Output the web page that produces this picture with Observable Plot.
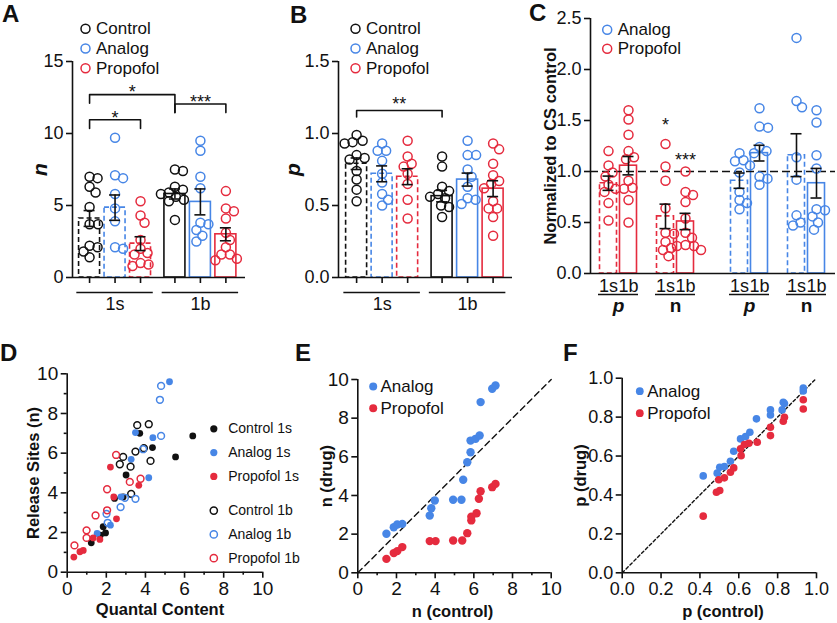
<!DOCTYPE html>
<html>
<head>
<meta charset="utf-8">
<script src="https://cdn.jsdelivr.net/npm/d3@7"></script>
<script src="https://cdn.jsdelivr.net/npm/@observablehq/plot@0.6"></script>
<style>
  html, body { margin: 0; padding: 0; background: #fff; }
  #fig { position: relative; width: 837px; height: 623px; overflow: hidden; background: #fff;
         font-family: "Liberation Sans", Arial, Helvetica, sans-serif; color: #111; }
  .panel { position: absolute; }
  .panel svg { display: block; }
  .letter { position: absolute; font-size: 24px; font-weight: bold; line-height: 1; color: #111; }
</style>
</head>
<body>
<div id="fig"></div>
<script>
// ---------------- DATA ----------------
const conditions = ["Control", "Analog", "Propofol"];
const synapses = ["1s", "1b"];

// Panel A: n (release sites) per NMJ
const nControl1s  = [7.0, 6.9, 6.3, 5.9, 4.9, 3.7, 3.7, 2.2, 2.1, 1.8, 1.4];
const nAnalog1s   = [9.7, 7.1, 6.9, 5.8, 4.8, 3.9, 2.1, 2.0];
const nPropofol1s = [5.3, 4.3, 3.8, 2.6, 2.0, 1.7, 1.6, 1.0, 0.9, 0.8];
const nControl1b  = [7.5, 7.4, 6.3, 6.1, 5.9, 5.8, 5.6, 5.4, 5.3, 4.0];
const nAnalog1b   = [9.5, 8.8, 7.0, 6.2, 3.8, 3.7, 3.3, 2.9, 2.5];
const nPropofol1b = [6.0, 4.8, 4.6, 4.1, 3.1, 2.6, 2.1, 1.6, 1.6, 1.3, 1.2];
const nMean = [4.1, 4.85, 2.35, 5.8, 5.25, 3.0];
const nSem  = [0.55, 0.88, 0.48, 0.35, 0.9, 0.45];
const nTicks = [0, 5, 10, 15];
const nBracketFrom = [0, 3, 0], nBracketTo = [3, 5, 2];
const nBracketTop = [12.7, 12.05, 10.95];
const nBracketEndFrom = [12.1, 11.45, 10.35], nBracketEndTo = [11.45, 11.45, 10.35];
const nBracketLabel = ["*", "***", "*"];

// Panel B: p (release probability)
const pControl1s  = [0.99, 0.95, 0.94, 0.93, 0.85, 0.83, 0.82, 0.74, 0.68, 0.61, 0.53];
const pAnalog1s   = [0.93, 0.88, 0.88, 0.81, 0.72, 0.66, 0.58, 0.54, 0.50];
const pPropofol1s = [0.95, 0.84, 0.79, 0.77, 0.72, 0.65, 0.54, 0.41];
const pControl1b  = [0.84, 0.77, 0.63, 0.60, 0.58, 0.56, 0.55, 0.50, 0.49, 0.42];
const pAnalog1b   = [0.95, 0.85, 0.85, 0.75, 0.70, 0.63, 0.55, 0.54, 0.51];
const pPropofol1b = [0.93, 0.89, 0.79, 0.71, 0.67, 0.65, 0.62, 0.53, 0.48, 0.48, 0.42, 0.29];
const pMean = [0.79, 0.72, 0.70, 0.565, 0.68, 0.617];
const pSem  = [0.04, 0.055, 0.055, 0.04, 0.045, 0.055];
const pTicks = [0, 0.5, 1.0, 1.5];
const pBracketFrom = [0], pBracketTo = [3];
const pBracketTop = [1.16], pBracketEndFrom = [1.115], pBracketEndTo = [1.115];
const pBracketLabel = ["**"];

// Panel C: normalized to CS control
const cDrugs = ["Propofol", "Analog"];
const cParams = ["p", "n"];
const cPropofolP1s = [1.20, 1.06, 0.99, 0.95, 0.87, 0.83, 0.80, 0.69, 0.52];
const cPropofolP1b = [1.60, 1.51, 1.36, 1.20, 1.14, 1.12, 0.91, 0.84, 0.83, 0.72, 0.50];
const cPropofolN1s = [1.27, 1.05, 0.91, 0.64, 0.40, 0.39, 0.31, 0.25, 0.23, 0.17];
const cPropofolN1b = [1.00, 0.80, 0.77, 0.70, 0.54, 0.40, 0.35, 0.28, 0.27, 0.27, 0.23];
const cAnalogP1s   = [1.18, 1.11, 1.10, 1.06, 0.99, 0.80, 0.72, 0.69, 0.63];
const cAnalogP1b   = [1.62, 1.44, 1.43, 1.24, 1.20, 1.18, 0.95, 0.93, 0.87];
const cAnalogN1s   = [2.31, 1.69, 1.63, 1.14, 0.92, 0.57, 0.50, 0.47];
const cAnalogN1b   = [1.60, 1.48, 1.16, 1.03, 0.63, 0.62, 0.56, 0.50, 0.43];
const cMean = [0.885, 1.057, 0.56, 0.51, 0.91, 1.18, 1.16, 0.885];
const cSem  = [0.07, 0.09, 0.12, 0.08, 0.075, 0.077, 0.21, 0.145];
const cTicks = [0, 0.5, 1.0, 1.5, 2.0, 2.5];
const cReference = 1.0;
const cStarBar = [2, 3], cStarY = [1.458, 1.115], cStarLabel = ["*", "***"];

// Panel D: release sites vs quantal content
const dTicks = [0, 2, 4, 6, 8, 10], dMinor = [1, 3, 5, 7, 9];
const dControl1sX  = [1.23, 1.70, 1.84, 1.96, 2.42, 2.86, 3.01, 3.71, 4.36, 5.54, 6.42];
const dControl1sY  = [1.48, 1.87, 2.29, 1.98, 3.72, 3.79, 4.90, 7.00, 6.28, 5.81, 6.87];
const dAnalog1sX   = [5.23, 3.49, 4.38, 3.27, 4.17, 2.75, 2.21, 1.53];
const dAnalog1sY   = [9.60, 7.04, 6.78, 5.69, 4.76, 3.80, 2.37, 1.95];
const dPropofol1sX = [2.21, 3.66, 2.38, 2.52, 1.33, 1.67, 0.82, 0.65, 0.34];
const dPropofol1sY = [5.30, 4.38, 3.79, 2.69, 1.73, 1.65, 1.10, 1.03, 0.76];
const dControl1bX  = [3.58, 4.17, 3.49, 3.92, 2.86, 2.69, 3.24, 4.26, 3.27];
const dControl1bY  = [7.41, 7.46, 6.08, 6.25, 5.81, 5.44, 5.32, 5.61, 3.95];
const dAnalog1bX   = [4.80, 4.74, 4.80, 3.88, 2.73, 3.49, 2.95, 2.01, 2.07];
const dAnalog1bY   = [9.39, 8.69, 6.87, 6.20, 3.28, 3.70, 3.75, 2.94, 2.49];
const dPropofol1bX = [2.50, 3.75, 3.20, 2.04, 2.04, 1.45, 0.99, 0.99, 0.37];
const dPropofol1bY = [5.91, 4.71, 4.55, 4.18, 3.12, 2.86, 2.11, 1.73, 1.35];
const dLegend = ["Control 1s", "Analog 1s", "Propofol 1s", "Control 1b", "Analog 1b", "Propofol 1b"];

// Panel E: n drug vs n control
const eAnalogX   = [1.48, 1.86, 2.04, 2.30, 3.72, 3.80, 3.98, 4.93, 5.36, 5.45, 5.66, 5.83, 5.83, 6.09, 6.30, 6.35, 6.95, 7.12];
const eAnalogY   = [2.02, 2.36, 2.50, 2.53, 2.96, 3.34, 3.74, 3.78, 3.78, 4.81, 5.72, 6.24, 6.84, 6.93, 7.10, 8.83, 9.52, 9.69];
const ePropofolX = [1.48, 1.86, 2.04, 2.30, 3.72, 4.02, 4.93, 5.40, 5.66, 5.87, 5.87, 6.14, 6.26, 6.35, 6.95, 7.12];
const ePropofolY = [0.72, 1.02, 1.12, 1.33, 1.64, 1.64, 1.67, 1.67, 2.05, 2.71, 2.90, 3.08, 3.83, 4.22, 4.43, 4.60];

// Panel F: p drug vs p control
const fTicks = [0, 0.2, 0.4, 0.6, 0.8, 1.0];
const fAnalogX   = [0.417, 0.489, 0.502, 0.526, 0.557, 0.574, 0.609, 0.635, 0.657, 0.691, 0.763, 0.763, 0.829, 0.835, 0.823, 0.932, 0.932];
const fAnalogY   = [0.498, 0.512, 0.542, 0.546, 0.573, 0.625, 0.688, 0.700, 0.722, 0.791, 0.837, 0.811, 0.876, 0.870, 0.837, 0.950, 0.934];
const fPropofolX = [0.417, 0.485, 0.502, 0.497, 0.526, 0.557, 0.574, 0.612, 0.609, 0.629, 0.652, 0.695, 0.763, 0.763, 0.829, 0.835, 0.932, 0.932];
const fPropofolY = [0.291, 0.414, 0.423, 0.478, 0.488, 0.517, 0.539, 0.602, 0.637, 0.659, 0.666, 0.671, 0.748, 0.705, 0.779, 0.799, 0.889, 0.842];
const drugLegend = ["Analog", "Propofol"];

// ---------------- STYLE ----------------
const FONT = '"Liberation Sans", Arial, Helvetica, sans-serif';
const INK = "#111111", BLUE = "#4786e6", RED = "#e52b3e";
const SW = 1.6;
const condColor = {Control: INK, Analog: BLUE, Propofol: RED};

// ---------------- HELPERS ----------------
function swarm(vals, kx, ky, r) {
  const order = d3.range(vals.length).sort((a, b) => vals[b] - vals[a]);
  const placed = [], out = new Array(vals.length).fill(0);
  const minD = 2 * r * 0.9;
  for (const i of order) {
    const y = vals[i] * ky;
    for (let k = 0; k < 400; k++) {
      const c = (k % 2 ? 1 : -1) * Math.ceil(k / 2) * 0.5;
      if (placed.every(p => (p.x - c) ** 2 + (p.y - y) ** 2 >= minD * minD)) {
        placed.push({x: c, y}); out[i] = c / kx; break;
      }
    }
  }
  return out;
}

function legendMarks(items, o) {
  return items.flatMap((it, i) => {
    const dy = o.y - o.mt + i * o.step + (o.gapAfter != null && i >= o.gapAfter ? o.gap : 0);
    return [
      Plot.dot([it], {frameAnchor: "top-left", dx: o.x - o.ml, dy, r: o.r,
        stroke: it.filled ? "none" : it.col, fill: it.filled ? it.col : "none", strokeWidth: 1.5}),
      Plot.text([it], {frameAnchor: "top-left", dx: o.x - o.ml + o.textDx, dy, text: d => d.label,
        textAnchor: "start", lineAnchor: "middle", fontSize: o.fontSize, fill: INK})
    ];
  });
}

function place(node, left, top) {
  const d = document.createElement("div");
  d.className = "panel"; d.style.left = left + "px"; d.style.top = top + "px";
  d.appendChild(node); document.getElementById("fig").appendChild(d);
}
function letter(t, left, top) {
  const d = document.createElement("div");
  d.className = "letter"; d.textContent = t; d.style.left = left + "px"; d.style.top = top + "px";
  document.getElementById("fig").appendChild(d);
}

function yTitleMark(text, dx, size, italic) {
  return Plot.text([text], {frameAnchor: "left", dx, rotate: -90, text: d => d, textAnchor: "middle", lineAnchor: "middle",
    fontSize: size, fontWeight: "bold", fontStyle: italic ? "italic" : "normal", fill: INK});
}

function barPanel(o) {
  const iw = o.W - o.ml - o.mr, ih = o.H - o.mt - o.mb;
  const kx = iw / (o.xd[1] - o.xd[0]), ky = ih / (o.yd[1] - o.yd[0]);
  const hw = o.barW / 2 / kx, cap = o.capW / 2 / kx;
  const pts = o.bars.flatMap(b => {
    const off = swarm(b.values, kx, ky, o.r);
    return b.values.map((v, i) => ({x: b.pos + off[i], v, col: b.col}));
  });
  const marks = [
    Plot.rect(o.bars.filter(b => b.dashed), {x1: b => b.pos - hw, x2: b => b.pos + hw, y1: 0, y2: b => b.mean,
      stroke: b => b.col, fill: "none", strokeWidth: SW, strokeDasharray: "5,3"}),
    Plot.rect(o.bars.filter(b => !b.dashed), {x1: b => b.pos - hw, x2: b => b.pos + hw, y1: 0, y2: b => b.mean,
      stroke: b => b.col, fill: "none", strokeWidth: SW}),
    ...(o.refLine != null ? [Plot.ruleY([o.refLine], {stroke: INK, strokeWidth: 1.5, strokeDasharray: "8,4"})] : []),
    Plot.dot(pts, {x: "x", y: "v", r: o.r, stroke: d => d.col, fill: "none", strokeWidth: 1.5}),
    Plot.ruleX(o.bars, {x: "pos", y1: b => b.mean - b.sem, y2: b => b.mean + b.sem, stroke: INK, strokeWidth: SW}),
    Plot.ruleY(o.bars, {y: b => b.mean + b.sem, x1: b => b.pos - cap, x2: b => b.pos + cap, stroke: INK, strokeWidth: SW}),
    Plot.ruleY(o.bars, {y: b => b.mean - b.sem, x1: b => b.pos - cap, x2: b => b.pos + cap, stroke: INK, strokeWidth: SW}),
    Plot.axisY({ticks: o.yTicks, tickFormat: o.yFmt, tickSize: 6, tickPadding: 3, fontSize: 18, strokeWidth: SW, label: null}),
    Plot.ruleX([o.xd[0]], {stroke: INK, strokeWidth: SW}),
    Plot.ruleY([0], {stroke: INK, strokeWidth: SW}),
    yTitleMark(o.yTitle, o.yTitleDx, o.yTitleSize, o.yTitleItalic),
    ...o.extra
  ];
  return Plot.plot({
    width: o.W, height: o.H, marginLeft: o.ml, marginRight: o.mr, marginTop: o.mt, marginBottom: o.mb,
    x: {domain: o.xd, ...(o.noXAxis ? {axis: null} : {})}, y: {domain: o.yd}, color: {type: "identity"},
    style: {fontFamily: FONT, background: "transparent", overflow: "visible", color: INK},
    marks
  });
}

function bracketMarks(bars, from, to, top, ef, et, labels, starDy) {
  const brk = from.map((a, i) => ({a: bars[a].pos, b: bars[to[i]].pos, top: top[i], ea: ef[i], eb: et[i], label: labels[i]}));
  const pts = brk.flatMap((d, k) => [{x: d.a, y: d.ea, k}, {x: d.a, y: d.top, k}, {x: d.b, y: d.top, k}, {x: d.b, y: d.eb, k}]);
  return [
    Plot.line(pts, {x: "x", y: "y", z: "k", stroke: INK, strokeWidth: SW}),
    Plot.text(brk, {x: d => (d.a + d.b) / 2, y: "top", dy: starDy, text: "label", fontSize: 18, fill: INK})
  ];
}

function groupedBars(lists, means, sems) {
  return lists.map((values, i) => {
    const syn = synapses[Math.floor(i / 3)], cond = conditions[i % 3];
    return {values, mean: means[i], sem: sems[i], pos: Math.floor(i / 3) * 3.35 + (i % 3),
            col: condColor[cond], dashed: syn === "1s", syn, cond};
  });
}

function groupAxisMarks(bars) {
  const spans = synapses.map(s => {
    const bs = bars.filter(b => b.syn === s);
    return {label: s, x1: d3.min(bs, b => b.pos) - 0.5, x2: d3.max(bs, b => b.pos) + 0.5};
  });
  return [
    Plot.axisX({ticks: bars.map(b => b.pos), tickSize: 6, tickFormat: () => "", strokeWidth: SW, label: null}),
    Plot.ruleY(spans, {y: 0, x1: "x1", x2: "x2", dy: 15, stroke: INK, strokeWidth: SW}),
    Plot.text(spans, {x: d => (d.x1 + d.x2) / 2, y: 0, dy: 27, text: "label", fontSize: 18, fill: INK})
  ];
}

const condLegend = conditions.map(c => ({label: c, col: condColor[c], filled: false}));

// ---------------- PANEL A ----------------
const barsA = groupedBars([nControl1s, nAnalog1s, nPropofol1s, nControl1b, nAnalog1b, nPropofol1b], nMean, nSem);
const A = {W: 268, H: 318, ml: 72, mr: 23, mt: 61, mb: 41};
place(barPanel({
  ...A, xd: [-0.67, 6.12], yd: [0, 15], bars: barsA, r: 4.5, barW: 21, capW: 11,
  yTicks: nTicks, yFmt: d3.format("d"), yTitle: "n", yTitleDx: -32, yTitleSize: 21, yTitleItalic: true,
  extra: [
    ...groupAxisMarks(barsA),
    ...bracketMarks(barsA, nBracketFrom, nBracketTo, nBracketTop, nBracketEndFrom, nBracketEndTo, nBracketLabel, -2),
    ...legendMarks(condLegend, {x: 85, y: 28.3, step: 19.7, r: 4.5, textDx: 10.5, fontSize: 17, ml: A.ml, mt: A.mt})
  ]
}), 0, 0);

// ---------------- PANEL B ----------------
const barsB = groupedBars([pControl1s, pAnalog1s, pPropofol1s, pControl1b, pAnalog1b, pPropofol1b], pMean, pSem);
const B = {W: 268, H: 318, ml: 72, mr: 22, mt: 61, mb: 41};
place(barPanel({
  ...B, xd: [-0.71, 6.11], yd: [0, 1.5], bars: barsB, r: 4.5, barW: 21, capW: 11,
  yTicks: pTicks, yFmt: d3.format(".1f"), yTitle: "p", yTitleDx: -45, yTitleSize: 21, yTitleItalic: true,
  extra: [
    ...groupAxisMarks(barsB),
    ...bracketMarks(barsB, pBracketFrom, pBracketTo, pBracketTop, pBracketEndFrom, pBracketEndTo, pBracketLabel, -6.5),
    ...legendMarks(condLegend, {x: 89, y: 28.3, step: 19.7, r: 4.5, textDx: 10.5, fontSize: 17, ml: B.ml, mt: B.mt})
  ]
}), 266, 0);

// ---------------- PANEL C ----------------
const cLists = [cPropofolP1s, cPropofolP1b, cPropofolN1s, cPropofolN1b, cAnalogP1s, cAnalogP1b, cAnalogN1s, cAnalogN1b];
const barsC = cLists.map((values, i) => {
  const drug = cDrugs[Math.floor(i / 4)], param = cParams[Math.floor(i / 2) % 2], syn = synapses[i % 2];
  return {values, mean: cMean[i], sem: cSem[i], drug, param, syn, dashed: syn === "1s", col: condColor[drug],
          pos: Math.floor(i / 4) * 6.55 + (Math.floor(i / 2) % 2) * 2.85 + (i % 2)};
});
const pairsC = d3.range(0, barsC.length, 2).map(i => ({label: barsC[i].param, x1: barsC[i].pos - 0.5, x2: barsC[i + 1].pos + 0.5}));
const starsC = cStarBar.map((b, i) => ({x: barsC[b].pos, y: cStarY[i], label: cStarLabel[i]}));
const C = {W: 307, H: 318, ml: 60, mr: 2, mt: 18, mb: 45};
place(barPanel({
  ...C, xd: [-0.9, 11.35], yd: [0, 2.5], bars: barsC, r: 4.5, barW: 17, capW: 11, noXAxis: true, refLine: cReference,
  yTicks: cTicks, yFmt: d3.format(".1f"), yTitle: "Normalized to CS control", yTitleDx: -40, yTitleSize: 16.5, yTitleItalic: false,
  extra: [
    Plot.text(barsC, {x: "pos", y: 0, dy: 12.6, text: "syn", fontSize: 18, fill: INK}),
    Plot.ruleY(pairsC, {y: 0, x1: "x1", x2: "x2", dy: 21, stroke: INK, strokeWidth: SW}),
    Plot.text(pairsC.filter(d => d.label === "p"), {x: d => (d.x1 + d.x2) / 2, y: 0, dy: 32.4, text: "label", fontSize: 19, fontWeight: "bold", fontStyle: "italic", fill: INK}),
    Plot.text(pairsC.filter(d => d.label === "n"), {x: d => (d.x1 + d.x2) / 2, y: 0, dy: 32.4, text: "label", fontSize: 19, fontWeight: "bold", fill: INK}),
    Plot.text(starsC, {x: "x", y: "y", text: "label", fontSize: 18, fill: INK}),
    ...legendMarks(cDrugs.slice().reverse().map(d => ({label: d, col: condColor[d], filled: false})),
      {x: 76.7, y: 29.3, step: 19, r: 4.5, textDx: 10.5, fontSize: 17, ml: C.ml, mt: C.mt})
  ]
}), 530, 0);

// ---------------- SCATTER PANELS ----------------
function zipPts(xs, ys) { return xs.map((x, i) => ({x, y: ys[i]})); }

function scatterPanel(o) {
  const marks = [];
  if (o.diag) marks.push(Plot.line(o.xd.map(v => ({v})), {x: "v", y: "v", stroke: INK, strokeWidth: 1.4, strokeDasharray: o.diag}));
  for (const s of o.series) {
    marks.push(Plot.dot(s.pts, {x: "x", y: "y", r: o.r, fill: s.filled ? s.col : "none", stroke: s.filled ? "none" : s.col, strokeWidth: 1.5}));
  }
  marks.push(
    Plot.axisX({ticks: o.xTicks, tickFormat: o.fmt, tickSize: 6, tickPadding: 3, fontSize: o.tickFont, strokeWidth: SW, label: null}),
    Plot.axisY({ticks: o.yTicks, tickFormat: o.fmt, tickSize: 6, tickPadding: 3, fontSize: o.tickFont, strokeWidth: SW, label: null}),
    Plot.ruleX([o.xd[0]], {stroke: INK, strokeWidth: SW}),
    Plot.ruleY([o.yd[0]], {stroke: INK, strokeWidth: SW}),
    Plot.text([o.xTitle], {frameAnchor: "bottom", dx: o.xTitleDx, dy: o.xTitleDy, text: d => d, textAnchor: "middle", lineAnchor: "middle",
      fontSize: 16.5, fontWeight: "bold", fill: INK}),
    yTitleMark(o.yTitle, o.yTitleDx, 16.5, false),
    ...(o.xMinor ? [Plot.axisX({ticks: o.xMinor, tickFormat: () => "", tickSize: 3, strokeWidth: SW, label: null})] : []),
    ...(o.yMinor ? [Plot.axisY({ticks: o.yMinor, tickFormat: () => "", tickSize: 3, strokeWidth: SW, label: null})] : []),
    ...o.legend
  );
  return Plot.plot({
    width: o.W, height: o.H, marginLeft: o.ml, marginRight: o.mr, marginTop: o.mt, marginBottom: o.mb,
    x: {domain: o.xd}, y: {domain: o.yd}, color: {type: "identity"},
    style: {fontFamily: FONT, background: "transparent", overflow: "visible", color: INK},
    marks
  });
}

// Panel D
const D = {W: 300, H: 305, ml: 66.7, mr: 37.7, mt: 55.3, mb: 51.3};
const dSeries = [
  {pts: zipPts(dControl1sX, dControl1sY), col: INK, filled: true},
  {pts: zipPts(dAnalog1sX, dAnalog1sY), col: BLUE, filled: true},
  {pts: zipPts(dPropofol1sX, dPropofol1sY), col: RED, filled: true},
  {pts: zipPts(dControl1bX, dControl1bY), col: INK, filled: false},
  {pts: zipPts(dAnalog1bX, dAnalog1bY), col: BLUE, filled: false},
  {pts: zipPts(dPropofol1bX, dPropofol1bY), col: RED, filled: false}
];
place(scatterPanel({
  ...D, xd: [0, 10], yd: [0, 10], r: 3.4, series: dSeries, xTicks: dTicks, yTicks: dTicks, xMinor: dMinor, yMinor: dMinor,
  fmt: d3.format("d"), tickFont: 19, xTitle: "Quantal Content", xTitleDx: -5, xTitleDy: 38,
  yTitle: "Release Sites (n)", yTitleDx: -33,
  legend: legendMarks(dLegend.map((l, i) => ({label: l, col: dSeries[i].col, filled: dSeries[i].filled})),
    {x: 213.3, y: 110.3, step: 23.8, gapAfter: 3, gap: 10.4, r: 3.6, textDx: 14.4, fontSize: 14, ml: D.ml, mt: D.mt})
}), 0, 318);

// Panel E
const E = {W: 300, H: 305, ml: 87.3, mr: 19.3, mt: 61, mb: 50.7};
place(scatterPanel({
  ...E, xd: [0, 10], yd: [0, 10], r: 4.2, diag: "6,4",
  series: [{pts: zipPts(eAnalogX, eAnalogY), col: BLUE, filled: true}, {pts: zipPts(ePropofolX, ePropofolY), col: RED, filled: true}],
  xTicks: dTicks, yTicks: dTicks, xMinor: dMinor, fmt: d3.format("d"), tickFont: 19,
  xTitle: "n (control)", xTitleDx: -2, xTitleDy: 39.4, yTitle: "n (drug)", yTitleDx: -31,
  legend: legendMarks(drugLegend.map(l => ({label: l, col: condColor[l], filled: true})),
    {x: 102.7, y: 68, step: 21.7, r: 4, textDx: 7.3, fontSize: 17, ml: E.ml, mt: E.mt})
}), 270, 318);

// Panel F
const F = {W: 287, H: 305, ml: 71.7, mr: 21, mt: 59.7, mb: 50.7};
place(scatterPanel({
  ...F, xd: [0, 1], yd: [0, 1], r: 3.8, diag: "3,2.5",
  series: [{pts: zipPts(fAnalogX, fAnalogY), col: BLUE, filled: true}, {pts: zipPts(fPropofolX, fPropofolY), col: RED, filled: true}],
  xTicks: fTicks, yTicks: fTicks, fmt: d3.format(".1f"), tickFont: 18,
  xTitle: "p (control)", xTitleDx: 3.6, xTitleDy: 39, yTitle: "p (drug)", yTitleDx: -41,
  legend: legendMarks(drugLegend.map(l => ({label: l, col: condColor[l], filled: true})),
    {x: 89.3, y: 72.7, step: 22, r: 3.9, textDx: 7.4, fontSize: 17, ml: F.ml, mt: F.mt})
}), 550, 318);

// Panel letters
letter("A", 2, 2);
letter("B", 290, 3);
letter("C", 529, 1);
letter("D", 0, 341);
letter("E", 295, 341);
letter("F", 563, 341);
</script>
</body>
</html>
